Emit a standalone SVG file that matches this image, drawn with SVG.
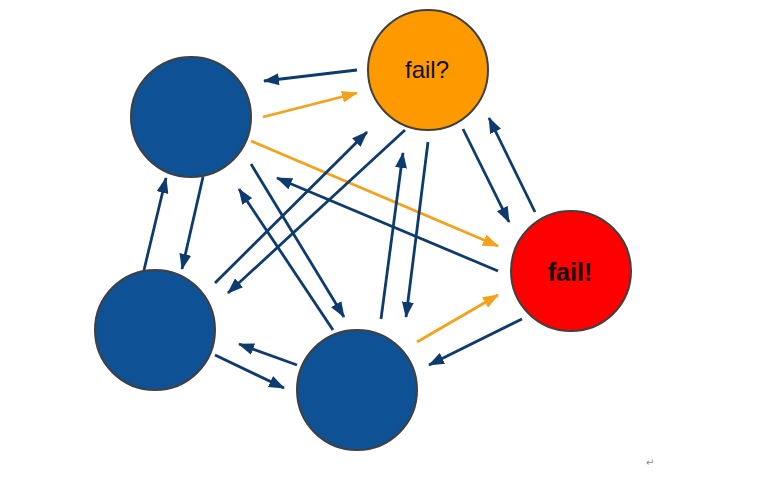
<svg xmlns="http://www.w3.org/2000/svg" width="762" height="478" viewBox="0 0 762 478">
<style>
.node{stroke:#404040;stroke-width:2}
.blue{fill:#0f5195}
.orange{fill:#ff9900}
.red{fill:#ff0000}
.nv{stroke:#0d3b6e;stroke-width:2.8;fill:none;marker-end:url(#ahN)}
.or{stroke:#f5a11c;stroke-width:2.8;fill:none;marker-end:url(#ahO)}
.lbl{font-family:"Liberation Sans",Arial,sans-serif;text-anchor:middle;fill:#111}
</style>
<defs>
<marker id="ahN" markerUnits="userSpaceOnUse" markerWidth="16" markerHeight="12" refX="15" refY="6" orient="auto">
<path d="M0,0 L16,6 L0,12 z" fill="#0d3b6e"/>
</marker>
<marker id="ahO" markerUnits="userSpaceOnUse" markerWidth="16" markerHeight="12" refX="15" refY="6" orient="auto">
<path d="M0,0 L16,6 L0,12 z" fill="#f5a11c"/>
</marker>
</defs>
<rect width="762" height="478" fill="#fff"/>
<g id="connectors">
<line class="nv" x1="357" y1="70" x2="264" y2="81"/>
<line class="or" x1="263" y1="117" x2="357" y2="93"/>
<line class="or" x1="251" y1="141" x2="498" y2="246"/>
<line class="nv" x1="203" y1="177" x2="182" y2="269"/>
<line class="nv" x1="144" y1="270" x2="166" y2="178"/>
<line class="nv" x1="251" y1="164" x2="344" y2="317"/>
<line class="nv" x1="333" y1="330" x2="239" y2="189"/>
<line class="nv" x1="215" y1="283" x2="367" y2="132"/>
<line class="nv" x1="405" y1="130" x2="228" y2="293"/>
<line class="nv" x1="381" y1="319" x2="403" y2="153"/>
<line class="nv" x1="428" y1="142" x2="406" y2="317"/>
<line class="nv" x1="498" y1="271" x2="277" y2="178"/>
<line class="nv" x1="463" y1="129" x2="509" y2="222"/>
<line class="nv" x1="535" y1="212" x2="489" y2="118"/>
<line class="or" x1="417" y1="342" x2="498" y2="295"/>
<line class="nv" x1="522" y1="319" x2="429" y2="365"/>
<line class="nv" x1="297" y1="365" x2="239" y2="344"/>
<line class="nv" x1="215" y1="355" x2="284" y2="388"/>
</g>
<g id="nodeA"><circle class="node blue" cx="191" cy="117" r="60"/></g>
<g id="nodeB"><circle class="node orange" cx="428" cy="70" r="60"/><text class="lbl" x="427" y="78" font-size="24">fail?</text></g>
<g id="nodeC"><circle class="node red" cx="571" cy="271" r="60"/><text class="lbl" x="570" y="281" font-size="25" font-weight="bold">fail!</text></g>
<g id="nodeD"><circle class="node blue" cx="155" cy="330" r="60"/></g>
<g id="nodeE"><circle class="node blue" cx="357" cy="390" r="60"/></g>
<text x="650" y="466" font-family="DejaVu Sans,sans-serif" font-size="10" fill="#888" text-anchor="middle">↵</text>
</svg>
